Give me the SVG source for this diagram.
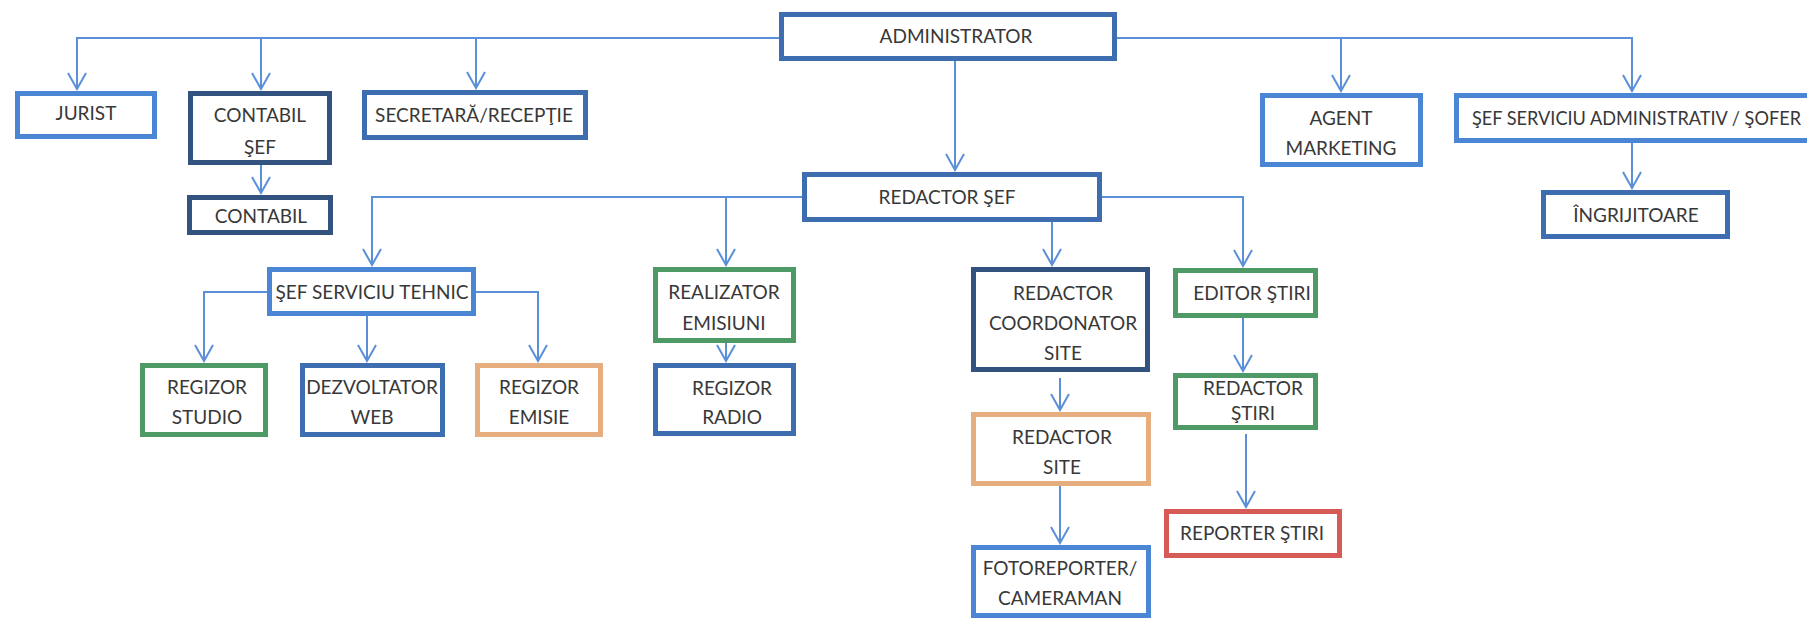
<svg xmlns="http://www.w3.org/2000/svg" width="1807" height="619" viewBox="0 0 1807 619">
<defs>
<marker id="v" viewBox="-18 -10 20 20" refX="0" refY="0" markerWidth="20" markerHeight="20" markerUnits="userSpaceOnUse" orient="auto">
<path d="M-16,-9 L0,0 L-16,9" fill="none" stroke="#5B8FD8" stroke-width="2"/>
</marker>
<style>
.c{fill:none;stroke:#5B8FD8;stroke-width:2}
.a{marker-end:url(#v)}
rect{fill:#fff;stroke-width:5}
.lb{stroke:#4A86D4}
.mb{stroke:#3E6DB0}
.nv{stroke:#34527F}
.gr{stroke:#4E9A66}
.or{stroke:#E6AD7E}
.rd{stroke:#D65A55}
text{font-family:Lato,"Liberation Sans",sans-serif;font-size:19px;fill:#383838;text-anchor:middle}
</style>
</defs>
<rect x="0" y="0" width="1807" height="619" style="fill:#fff;stroke:none"/>
<g id="connectors">
<path class="c a" d="M779,38 H77 V89"/>
<path class="c a" d="M261,38 V89"/>
<path class="c a" d="M476,38 V88"/>
<path class="c a" d="M1117,38 H1632 V91"/>
<path class="c a" d="M1341,38 V91"/>
<path class="c a" d="M955,61 V170"/>
<path class="c a" d="M261,165 V193"/>
<path class="c a" d="M1632,143 V188"/>
<path class="c a" d="M802,197 H372 V265"/>
<path class="c a" d="M726,197 V265"/>
<path class="c a" d="M1102,197 H1243 V266"/>
<path class="c a" d="M1052,222 V265"/>
<path class="c a" d="M267,292 H204 V361"/>
<path class="c a" d="M476,292 H538 V361"/>
<path class="c a" d="M367,316 V361"/>
<path class="c a" d="M726,343 V361"/>
<path class="c a" d="M1060,378 V410"/>
<path class="c a" d="M1060,486 V543"/>
<path class="c a" d="M1243,318 V371"/>
<path class="c a" d="M1246,434 V507"/>
</g>
<g id="administrator"><rect class="mb" x="781.5" y="14.5" width="333" height="44"/><text x="956" y="43">ADMINISTRATOR</text></g>
<g id="jurist"><rect class="lb" x="17.5" y="93.5" width="137" height="43"/><text x="86" y="120">JURIST</text></g>
<g id="contabil-sef"><rect class="nv" x="190.5" y="93.5" width="139" height="69"/><text x="260" y="122">CONTABIL</text><text x="260" y="154">ŞEF</text></g>
<g id="secretara"><rect class="mb" x="364.5" y="92.5" width="221" height="45"/><text x="474" y="122">SECRETARĂ/RECEPŢIE</text></g>
<g id="contabil"><rect class="nv" x="189.5" y="197.5" width="141" height="35"/><text x="261" y="223">CONTABIL</text></g>
<g id="agent-marketing"><rect class="lb" x="1262.5" y="95.5" width="158" height="69"/><text x="1341" y="125">AGENT</text><text x="1341" y="155">MARKETING</text></g>
<g id="sef-serviciu-administrativ"><rect class="lb" x="1456.5" y="95.5" width="356" height="45"/><text x="1472" y="125" style="text-anchor:start;font-size:18.5px" textLength="329" lengthAdjust="spacingAndGlyphs">ŞEF SERVICIU ADMINISTRATIV / ŞOFER</text></g>
<g id="ingrijitoare"><rect class="mb" x="1543.5" y="192.5" width="184" height="44"/><text x="1636" y="222">ÎNGRIJITOARE</text></g>
<g id="redactor-sef"><rect class="mb" x="804.5" y="174.5" width="295" height="45"/><text x="947" y="204">REDACTOR ŞEF</text></g>
<g id="sef-serviciu-tehnic"><rect class="lb" x="269.5" y="269.5" width="204" height="44"/><text x="372" y="299">ŞEF SERVICIU TEHNIC</text></g>
<g id="regizor-studio"><rect class="gr" x="142.5" y="365.5" width="123" height="69"/><text x="207" y="394">REGIZOR</text><text x="207" y="424">STUDIO</text></g>
<g id="dezvoltator-web"><rect class="mb" x="302.5" y="365.5" width="140" height="69"/><text x="372" y="394">DEZVOLTATOR</text><text x="372" y="424">WEB</text></g>
<g id="regizor-emisie"><rect class="or" x="477.5" y="365.5" width="123" height="69"/><text x="539" y="394">REGIZOR</text><text x="539" y="424">EMISIE</text></g>
<g id="realizator-emisiuni"><rect class="gr" x="655.5" y="269.5" width="138" height="71"/><text x="724" y="299">REALIZATOR</text><text x="724" y="330">EMISIUNI</text></g>
<g id="regizor-radio"><rect class="mb" x="655.5" y="365.5" width="138" height="68"/><text x="732" y="395">REGIZOR</text><text x="732" y="424">RADIO</text></g>
<g id="redactor-coordonator-site"><rect class="nv" x="973.5" y="269.5" width="174" height="100"/><text x="1063" y="300">REDACTOR</text><text x="1063" y="330">COORDONATOR</text><text x="1063" y="360">SITE</text></g>
<g id="redactor-site"><rect class="or" x="973.5" y="414.5" width="175" height="69"/><text x="1062" y="444">REDACTOR</text><text x="1062" y="474">SITE</text></g>
<g id="fotoreporter"><rect class="lb" x="973.5" y="547.5" width="175" height="68"/><text x="1060" y="575">FOTOREPORTER/</text><text x="1060" y="605">CAMERAMAN</text></g>
<g id="editor-stiri"><rect class="gr" x="1175.5" y="270.5" width="140" height="45"/><text x="1252" y="300">EDITOR ŞTIRI</text></g>
<g id="redactor-stiri"><rect class="gr" x="1175.5" y="375.5" width="140" height="52"/><text x="1253" y="395">REDACTOR</text><text x="1253" y="420">ŞTIRI</text></g>
<g id="reporter-stiri"><rect class="rd" x="1166.5" y="511.5" width="173" height="44"/><text x="1252" y="540">REPORTER ŞTIRI</text></g>
</svg>
